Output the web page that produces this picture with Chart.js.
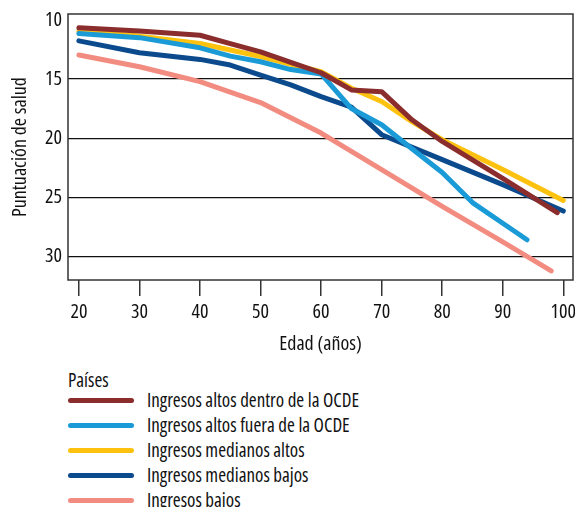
<!DOCTYPE html>
<html>
<head>
    <meta charset="UTF-8">
    <title>Puntuación de salud por edad</title>
    <script src="https://cdn.jsdelivr.net/npm/chart.js"></script>
    <style>
        body {
            margin: 0;
        }

        #legend {
            position: absolute;
            left: 68px;
            top: 369px;
            font-family: 'Open Sans', sans-serif;
            font-stretch: 75%;
            font-size: 19px;
            color: #111;
        }

        .legend-title {
            line-height: 22px;
            height: 22px;
        }

        #legend ul {
            list-style: none;
            margin: -3px 0 0 0;
            padding: 0;
        }

        #legend li {
            display: flex;
            align-items: center;
            height: 25px;
            line-height: 25px;
            white-space: nowrap;
        }

        .swatch {
            width: 66px;
            height: 5px;
            border-radius: 3px;
            margin-right: 13px;
        }
    </style>
</head>
<body>
    <div id="host">
        <canvas id="healthChart" width="575" height="362"></canvas>
    </div>
    <div id="legend">
        <div class="legend-title">Países</div>
        <ul></ul>
    </div>

    <script>
        // series labels and colours
        const seriesLabels = [
            'Ingresos altos dentro de la OCDE',
            'Ingresos altos fuera de la OCDE',
            'Ingresos medianos altos',
            'Ingresos medianos bajos',
            'Ingresos bajos'
        ];
        const seriesColors = ['#8b2d2d', '#1a9bd7', '#fdc20f', '#0b4a8c', '#f38c80'];

        // ages (x) and health scores (y) per series
        const agesOcde = [20, 30, 40, 45, 50, 55, 60, 65, 70, 75, 80, 90, 99];
        const scoreOcde = [10.67, 10.93, 11.3, 12.0, 12.7, 13.6, 14.47, 15.92, 16.07, 18.45, 20.28, 23.4, 26.3];

        const agesNoOcde = [20, 30, 40, 45, 50, 55, 60, 65, 70, 75, 80, 85, 90, 94];
        const scoreNoOcde = [11.15, 11.5, 12.36, 13.06, 13.54, 14.2, 14.57, 17.5, 18.87, 20.9, 22.9, 25.45, 27.2, 28.6];

        const agesMedAltos = [20, 30, 40, 50, 55, 60, 65, 70, 75, 80, 90, 100];
        const scoreMedAltos = [10.95, 11.37, 11.99, 13.1, 13.75, 14.38, 15.78, 16.9, 18.6, 20.13, 22.66, 25.27];

        const agesMedBajos = [20, 30, 40, 45, 50, 55, 60, 65, 70, 80, 90, 100];
        const scoreMedBajos = [11.77, 12.78, 13.34, 13.82, 14.66, 15.5, 16.49, 17.38, 19.71, 21.82, 23.93, 26.17];

        const agesBajos = [20, 30, 40, 50, 60, 70, 80, 90, 98];
        const scoreBajos = [12.97, 13.96, 15.22, 16.99, 19.57, 22.66, 25.77, 28.78, 31.23];

        // axis ticks
        const xTicks = [20, 30, 40, 50, 60, 70, 80, 90, 100];
        const yTicks = [10, 15, 20, 25, 30];

        const seriesAges = [agesOcde, agesNoOcde, agesMedAltos, agesMedBajos, agesBajos];
        const seriesScores = [scoreOcde, scoreNoOcde, scoreMedAltos, scoreMedBajos, scoreBajos];

        const datasets = seriesLabels.map((label, i) => ({
            label,
            data: seriesAges[i].map((age, j) => ({ x: age, y: seriesScores[i][j] })),
            borderColor: seriesColors[i],
            backgroundColor: seriesColors[i],
            borderWidth: 5,
            borderCapStyle: 'round',
            borderJoinStyle: 'round',
            pointRadius: 0,
            tension: 0,
            fill: false
        }));

        // 'condensed' goes into the canvas font string ahead of the size
        const condensed = (size) => ({ family: "'Open Sans', sans-serif", weight: 'condensed', size });

        // box around the plot area
        const frame = {
            id: 'frame',
            beforeDatasetsDraw(chart) {
                const { ctx, chartArea: a } = chart;
                ctx.save();
                ctx.strokeStyle = '#333';
                ctx.lineWidth = 1.5;
                ctx.strokeRect(a.left, a.top, a.right - a.left, a.bottom - a.top);
                ctx.restore();
            }
        };

        const chart = new Chart(document.getElementById('healthChart'), {
            type: 'line',
            data: { datasets },
            plugins: [frame],
            options: {
                responsive: false,
                animation: false,
                plugins: {
                    legend: { display: false },
                    tooltip: { enabled: false }
                },
                layout: { padding: { top: 14, right: 2 } },
                scales: {
                    x: {
                        type: 'linear',
                        min: 18.2,
                        max: 101.6,
                        afterBuildTicks: (s) => { s.ticks = xTicks.map(v => ({ value: v })); },
                        afterFit: (s) => { s.height = 82; s.paddingLeft = 0; s.paddingRight = 0; },
                        border: { display: false },
                        grid: { drawOnChartArea: false, drawTicks: true, tickLength: 16, color: '#333', lineWidth: 1.5 },
                        ticks: { padding: 4, font: condensed(20), color: '#111', maxRotation: 0 },
                        title: {
                            display: true,
                            text: 'Edad (años)',
                            color: '#111',
                            font: condensed(20),
                            padding: { top: 0, bottom: 6 }
                        }
                    },
                    y: {
                        min: 9.5,
                        max: 32,
                        reverse: true,
                        afterBuildTicks: (s) => { s.ticks = yTicks.map(v => ({ value: v })); },
                        afterFit: (s) => { s.width = 68; s.paddingTop = 0; s.paddingBottom = 0; },
                        border: { display: false },
                        grid: {
                            drawTicks: false,
                            color: (c) => c.tick && c.tick.value === 10 ? 'rgba(0,0,0,0)' : '#111',
                            lineWidth: 1.2
                        },
                        ticks: { padding: 6, font: condensed(20), color: '#111' },
                        title: {
                            display: true,
                            text: 'Puntuación de salud',
                            color: '#111',
                            font: condensed(20),
                            padding: { top: 8, bottom: 0 }
                        }
                    }
                }
            }
        });

        // legend built from the chart's datasets
        const list = document.querySelector('#legend ul');
        chart.data.datasets.forEach(ds => {
            const li = document.createElement('li');
            li.innerHTML = `<span class="swatch" style="background:${ds.borderColor}"></span><span>${ds.label}</span>`;
            list.appendChild(li);
        });
    </script>
</body>
</html>
